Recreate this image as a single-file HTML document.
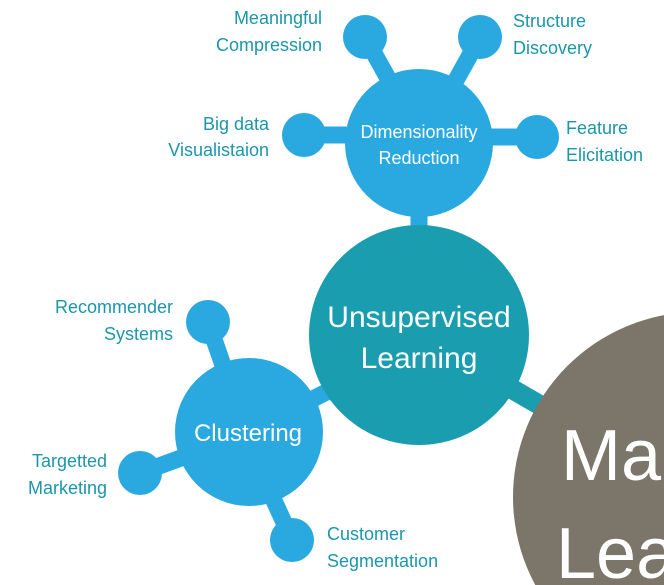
<!DOCTYPE html>
<html><head><meta charset="utf-8"><style>
html,body{margin:0;padding:0;background:#fff;width:664px;height:585px;overflow:hidden;}
svg{display:block;}
text{font-family:"Liberation Sans",sans-serif;}
.l{fill:#1b96aa;font-size:18px;}
.w{fill:#fff;}
</style></head><body>
<svg width="664" height="585" viewBox="0 0 664 585">
<g stroke="#29a9e0" stroke-width="17">
<line x1="365" y1="37" x2="400" y2="100"/>
<line x1="480" y1="37" x2="445" y2="100"/>
<line x1="304" y1="135" x2="420" y2="135"/>
<line x1="537" y1="137" x2="420" y2="137"/>
<line x1="419" y1="200" x2="419" y2="240"/>
<line x1="208" y1="322" x2="235" y2="400"/>
<line x1="140" y1="473" x2="230" y2="440"/>
<line x1="292" y1="540" x2="260" y2="470"/>
<line x1="249" y1="432" x2="340" y2="385"/>
</g>
<line x1="419" y1="335" x2="600" y2="440" stroke="#1a9daf" stroke-width="20"/>
<circle cx="698" cy="497" r="185" fill="#7b7669"/>
<circle cx="365" cy="37" r="22" fill="#29a9e0"/>
<circle cx="480" cy="37" r="22" fill="#29a9e0"/>
<circle cx="304" cy="135" r="22" fill="#29a9e0"/>
<circle cx="537" cy="137" r="22" fill="#29a9e0"/>
<circle cx="208" cy="322" r="22" fill="#29a9e0"/>
<circle cx="140" cy="473" r="22" fill="#29a9e0"/>
<circle cx="292" cy="540" r="22" fill="#29a9e0"/>
<circle cx="419" cy="143" r="74" fill="#29a9e0"/>
<circle cx="419" cy="335" r="110" fill="#1a9daf"/>
<circle cx="249" cy="432" r="74" fill="#29a9e0"/>
<text class="w" x="419" y="138" text-anchor="middle" font-size="18">Dimensionality</text>
<text class="w" x="419" y="164" text-anchor="middle" font-size="18">Reduction</text>
<text class="w" x="419" y="327" text-anchor="middle" font-size="30">Unsupervised</text>
<text class="w" x="419" y="368" text-anchor="middle" font-size="30">Learning</text>
<text class="w" x="248" y="441" text-anchor="middle" font-size="24">Clustering</text>
<text class="w" x="561" y="480" font-size="72">Machine</text>
<text class="w" x="556" y="578" font-size="72">Learning</text>
<text class="l" x="322" y="24" text-anchor="end">Meaningful</text>
<text class="l" x="322" y="51" text-anchor="end">Compression</text>
<text class="l" x="513" y="27">Structure</text>
<text class="l" x="513" y="54">Discovery</text>
<text class="l" x="269" y="130" text-anchor="end">Big data</text>
<text class="l" x="269" y="156" text-anchor="end">Visualistaion</text>
<text class="l" x="566" y="134">Feature</text>
<text class="l" x="566" y="161">Elicitation</text>
<text class="l" x="173" y="313" text-anchor="end">Recommender</text>
<text class="l" x="173" y="340" text-anchor="end">Systems</text>
<text class="l" x="107" y="467" text-anchor="end">Targetted</text>
<text class="l" x="107" y="494" text-anchor="end">Marketing</text>
<text class="l" x="327" y="540">Customer</text>
<text class="l" x="327" y="567">Segmentation</text>
</svg>
</body></html>
